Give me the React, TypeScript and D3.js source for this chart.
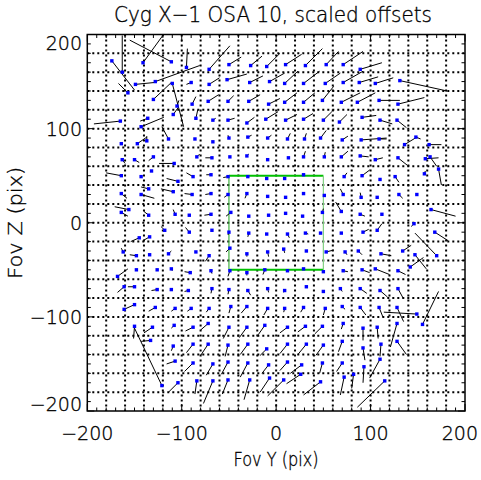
import * as d3 from "d3";

// each vector: [y, z, yEnd, zEnd] in FOV pixels; the blue dot sits at [y, z]
const upperLeft: number[][] = [
  [-174, 172, -150, 141], [-141, 170, -120, 199], [-111, 171, -155, 194], [-95, 165, -94, 185],
  [-71, 163, -49, 188], [-50, 168, -37, 176], [-27, 167, -15, 177], [-10, 166, 4, 180],
  [-163, 160, -163, 199], [-157, 138, -167, 148], [-149, 147, -129, 149], [-128, 150, -81, 167],
  [-110, 148, -98, 102], [-90, 149, -95, 147], [-71, 147, -60, 154], [-52, 152, -31, 158],
  [-28, 149, -14, 156], [-7, 150, 9, 159], [-130, 131, -111, 149], [-105, 124, -103, 130],
  [-89, 126, -85, 134], [-72, 129, -61, 136], [-51, 129, -45, 135], [-29, 129, -17, 136],
  [-8, 126, 4, 132], [-165, 108, -193, 105], [-136, 111, -144, 108], [-143, 102, -119, 112],
  [-109, 115, -104, 122], [-85, 111, -83, 120], [-67, 109, -64, 111], [-51, 109, -44, 111],
  [-31, 106, -23, 112], [-11, 110, 2, 118], [-164, 84, -164, 84], [-147, 84, -137, 91],
  [-137, 87, -137, 92], [-114, 89, -121, 102], [-86, 89, -86, 89], [-67, 86, -67, 86],
  [-50, 90, -51, 93], [-30, 91, -26, 93], [-9, 90, -5, 93], [-163, 67, -160, 63],
  [-150, 67, -145, 64], [-130, 70, -135, 66], [-108, 63, -124, 63], [-84, 70, -81, 73],
  [-68, 69, -75, 69], [-49, 70, -49, 70], [-31, 71, -29, 73], [-9, 67, -9, 67],
  [-164, 50, -180, 53], [-143, 49, -143, 49], [-132, 55, -132, 55], [-104, 44, -116, 47],
  [-88, 49, -95, 53], [-69, 51, -74, 51], [-51, 49, -56, 48], [-30, 49, -30, 49],
  [-10, 47, -10, 47], [-164, 31, -158, 26], [-143, 30, -129, 26], [-135, 36, -143, 38],
  [-109, 33, -122, 36], [-89, 30, -97, 31], [-69, 31, -75, 30], [-51, 30, -55, 27],
  [-31, 31, -33, 26], [-9, 28, -9, 28], [-156, 14, -171, 17], [-164, 11, -157, 7],
  [-135, 8, -140, 12], [-107, 9, -109, 14], [-92, 8, -92, 8], [-69, 9, -76, 8],
  [-48, 11, -53, 7], [-29, 7, -29, 7], [-8, 8, -8, 8],
];

const upperRight: number[][] = [
  [10, 168, 27, 179], [31, 167, 49, 185], [53, 168, 66, 182], [71, 168, 92, 182],
  [89, 163, 112, 170], [9, 148, 23, 161], [29, 148, 46, 161], [52, 148, 68, 159],
  [71, 149, 92, 161], [88, 149, 108, 155], [105, 148, 124, 154], [131, 151, 181, 140],
  [9, 128, 22, 138], [29, 128, 41, 138], [49, 130, 61, 145], [69, 128, 89, 138],
  [86, 128, 105, 138], [109, 130, 131, 130], [129, 126, 157, 133], [10, 109, 22, 115],
  [29, 110, 39, 116], [50, 109, 59, 118], [67, 107, 75, 115], [91, 112, 106, 114],
  [110, 109, 123, 105], [128, 109, 138, 101], [12, 89, 15, 95], [30, 89, 32, 95],
  [47, 90, 53, 98], [70, 88, 76, 92], [90, 88, 117, 90], [109, 89, 117, 89],
  [136, 83, 149, 91], [148, 91, 153, 89], [162, 83, 175, 83], [13, 69, 13, 69],
  [29, 70, 31, 76], [51, 70, 52, 75], [69, 70, 76, 76], [89, 71, 98, 70],
  [105, 67, 113, 69], [129, 69, 139, 61], [158, 68, 172, 69], [163, 70, 170, 60],
  [172, 57, 175, 40], [9, 47, 9, 47], [29, 51, 29, 51], [72, 49, 75, 53],
  [91, 50, 99, 56], [110, 46, 110, 46], [126, 49, 130, 43], [157, 52, 158, 55],
  [10, 27, 10, 27], [29, 31, 29, 31], [51, 29, 51, 29], [71, 30, 68, 36],
  [90, 27, 89, 32], [107, 27, 107, 27], [130, 30, 134, 26], [149, 30, 149, 30],
  [10, 10, 10, 10], [28, 7, 28, 7], [49, 11, 50, 15], [69, 12, 63, 22],
  [89, 9, 94, 7], [112, 9, 112, 9], [164, 14, 190, 7], [146, -1, 143, -4],
];

const lowerLeft: number[][] = [
  [-118, -8, -122, -4], [-92, -10, -96, -5], [-68, -8, -68, -8], [-50, -10, -51, -13],
  [-29, -11, -30, -15], [-10, -12, -10, -12], [-145, -16, -154, -20], [-134, -15, -141, -19],
  [-162, -31, -164, -27], [-148, -35, -155, -34], [-134, -34, -134, -34], [-114, -33, -111, -30],
  [-85, -31, -85, -31], [-71, -35, -75, -41], [-49, -27, -53, -31], [-31, -33, -31, -36],
  [-9, -31, -8, -36], [-168, -57, -157, -49], [-148, -50, -148, -50], [-126, -50, -126, -50],
  [-111, -49, -110, -51], [-91, -53, -97, -52], [-69, -51, -68, -54], [-49, -51, -51, -57],
  [-31, -53, -31, -56], [-12, -50, -14, -55], [-150, -68, -157, -68], [-161, -68, -168, -74],
  [-126, -71, -132, -72], [-111, -71, -112, -72], [-93, -72, -97, -73], [-68, -70, -69, -75],
  [-50, -71, -51, -76], [-30, -72, -27, -77], [-9, -70, -8, -74], [-150, -87, -161, -92],
  [-161, -92, -161, -92], [-128, -90, -135, -94], [-107, -91, -111, -94], [-90, -91, -94, -94],
  [-71, -91, -74, -95], [-48, -89, -50, -96], [-31, -89, -37, -96], [-9, -91, -13, -98],
  [-150, -110, -151, -123], [-131, -111, -140, -117], [-108, -109, -111, -112], [-88, -111, -96, -115],
  [-72, -107, -80, -114], [-50, -111, -56, -123], [-31, -111, -39, -122], [-12, -109, -19, -119],
  [-133, -125, -143, -126], [-109, -131, -111, -136], [-88, -129, -95, -138], [-72, -129, -80, -141],
  [-51, -130, -54, -142], [-30, -129, -38, -140], [-10, -134, -17, -141], [-107, -147, -116, -150],
  [-88, -149, -97, -158], [-67, -150, -74, -162], [-51, -148, -58, -161], [-30, -149, -38, -164],
  [-8, -151, -15, -160], [-121, -173, -150, -112], [-104, -170, -114, -180], [-84, -168, -86, -182],
  [-67, -168, -77, -192], [-51, -167, -57, -182], [-28, -167, -34, -188], [-7, -165, -17, -180],
];

const lowerRight: number[][] = [
  [12, -12, 14, -16], [31, -11, 34, -12], [47, -11, 47, -11], [69, -11, 69, -11],
  [92, -10, 98, -7], [107, -8, 112, -1], [168, -10, 182, -19], [170, -35, 147, -11],
  [8, -28, 9, -32], [32, -30, 32, -30], [53, -31, 61, -29], [73, -31, 75, -34],
  [87, -30, 91, -34], [111, -33, 122, -35], [134, -30, 143, -24], [147, -34, 159, -49],
  [142, -47, 156, -37], [12, -51, 12, -51], [29, -49, 29, -49], [50, -52, 50, -52],
  [71, -51, 76, -52], [91, -50, 99, -53], [105, -49, 120, -55], [129, -51, 137, -55],
  [9, -72, 8, -74], [32, -68, 32, -68], [50, -73, 50, -73], [68, -70, 70, -73],
  [89, -70, 96, -75], [110, -72, 118, -79], [129, -70, 135, -81], [155, -108, 172, -73],
  [9, -91, 8, -95], [29, -90, 26, -95], [52, -91, 50, -98], [70, -89, 73, -92],
  [89, -90, 95, -98], [109, -90, 113, -100], [128, -90, 135, -105], [149, -97, 114, -95],
  [12, -111, 4, -117], [31, -110, 23, -116], [49, -110, 41, -118], [71, -107, 69, -113],
  [92, -112, 92, -125], [107, -111, 108, -123], [128, -107, 121, -132], [12, -129, 4, -139],
  [32, -129, 23, -140], [50, -130, 42, -141], [70, -126, 66, -137], [92, -133, 94, -146],
  [111, -129, 110, -142], [128, -126, 138, -140], [12, -148, 4, -157], [27, -151, 15, -160],
  [26, -161, 11, -171], [49, -149, 46, -160], [70, -149, 64, -158], [93, -153, 92, -170],
  [110, -145, 99, -165], [8, -167, -9, -184], [47, -169, 29, -183], [72, -164, 68, -183],
  [82, -161, 80, -176], [115, -168, 86, -196],
];

// green reference box (FOV pixels)
const boxY = [-50, 50];
const boxZ = [-50, 50];

const tickLabels = [-200, -100, 0, 100, 200];

const font = "'DejaVu Sans', 'Liberation Sans', sans-serif";
const ink = { fill: "#000", stroke: "#000", strokeWidth: 0.35 };

export default function App() {
  const x = d3.scaleLinear().domain([-200, 200]).range([87.3, 465]);
  const y = d3.scaleLinear().domain([-200, 200]).range([411, 34.5]);

  const vectors = [...upperLeft, ...upperRight, ...lowerLeft, ...lowerRight];
  const grid = x.ticks(20).filter((v) => Math.abs(v) < 200);
  const minor = x.ticks(40);
  const fmt = (v: number) => (v < 0 ? "\u2212" + Math.abs(v) : String(v));
  const [x0, x1] = x.range();
  const [yb, yt] = y.range();

  return (
    <svg
      width={481}
      height={480}
      style={{ position: "absolute", left: 0, top: 0, background: "#fff" }}
    >
      <rect width={481} height={480} fill="#fff" />
      <text
        x={273}
        y={22}
        textAnchor="middle"
        fontFamily={font}
        fontWeight={200}
        fontSize={21}
        textLength={318}
        lengthAdjust="spacingAndGlyphs"
        {...ink}
      >
        Cyg X−1 OSA 10, scaled offsets
      </text>

      {/* dotted grid */}
      <g stroke="#000" strokeWidth={2} strokeDasharray="2,3">
        {grid.map((v) => (
          <line key={"gx" + v} x1={x(v)} x2={x(v)} y1={yt} y2={yb} />
        ))}
        {grid.map((v) => (
          <line key={"gy" + v} x1={x0} x2={x1} y1={y(v)} y2={y(v)} />
        ))}
      </g>

      {/* ticks on all four sides */}
      <g stroke="#000" strokeWidth={1}>
        {minor.map((v) => {
          const len = v % 100 === 0 ? 7 : 3.5;
          return (
            <g key={"t" + v}>
              <line x1={x(v)} x2={x(v)} y1={yb} y2={yb - len} />
              <line x1={x(v)} x2={x(v)} y1={yt} y2={yt + len} />
              <line x1={x0} x2={x0 + len} y1={y(v)} y2={y(v)} />
              <line x1={x1} x2={x1 - len} y1={y(v)} y2={y(v)} />
            </g>
          );
        })}
      </g>

      {/* green box */}
      <g>
        <line x1={x(boxY[0])} x2={x(boxY[1])} y1={y(boxZ[1])} y2={y(boxZ[1])} stroke="#00c000" strokeWidth={2} />
        <line x1={x(boxY[0])} x2={x(boxY[1])} y1={y(boxZ[0])} y2={y(boxZ[0])} stroke="#00c000" strokeWidth={2} />
        <line x1={x(boxY[0])} x2={x(boxY[0])} y1={y(boxZ[0])} y2={y(boxZ[1])} stroke="#40b040" strokeWidth={1.2} />
        <line x1={x(boxY[1])} x2={x(boxY[1])} y1={y(boxZ[0])} y2={y(boxZ[1])} stroke="#80d080" strokeWidth={1.2} />
      </g>

      {/* offset vectors */}
      <g stroke="#000" strokeWidth={1}>
        {vectors.map((d, i) => (
          <line key={"v" + i} x1={x(d[0])} y1={y(d[1])} x2={x(d[2])} y2={y(d[3])} />
        ))}
      </g>
      <g fill="#0000ff">
        {vectors.map((d, i) => (
          <rect key={"p" + i} x={x(d[0]) - 1.7} y={y(d[1]) - 1.7} width={3.4} height={3.4} />
        ))}
      </g>

      {/* frame */}
      <rect x={x0} y={yt} width={x1 - x0} height={yb - yt} fill="none" stroke="#000" strokeWidth={1.5} />

      {/* tick labels */}
      <g fontFamily={font} fontWeight={200} fontSize={19} {...ink}>
        {tickLabels.map((v) => {
          const atEnd = x(v) > 455;
          return (
            <text key={"xl" + v} x={atEnd ? 478 : x(v)} y={440} textAnchor={atEnd ? "end" : "middle"}>
              {fmt(v)}
            </text>
          );
        })}
        {tickLabels.map((v) => {
          const cy = Math.min(Math.max(y(v), yt + 8), yb - 7);
          return (
            <text key={"yl" + v} x={82} y={cy + 7} textAnchor="end">
              {fmt(v)}
            </text>
          );
        })}
      </g>

      <text
        x={276}
        y={466}
        textAnchor="middle"
        fontFamily={font}
        fontWeight={200}
        fontSize={19}
        textLength={85}
        lengthAdjust="spacingAndGlyphs"
        {...ink}
      >
        Fov Y (pix)
      </text>
      <text
        transform={`translate(22,${(yt + yb) / 2}) rotate(-90)`}
        textAnchor="middle"
        fontFamily={font}
        fontWeight={200}
        fontSize={19}
        textLength={112}
        lengthAdjust="spacingAndGlyphs"
        {...ink}
      >
        Fov Z (pix)
      </text>
    </svg>
  );
}
